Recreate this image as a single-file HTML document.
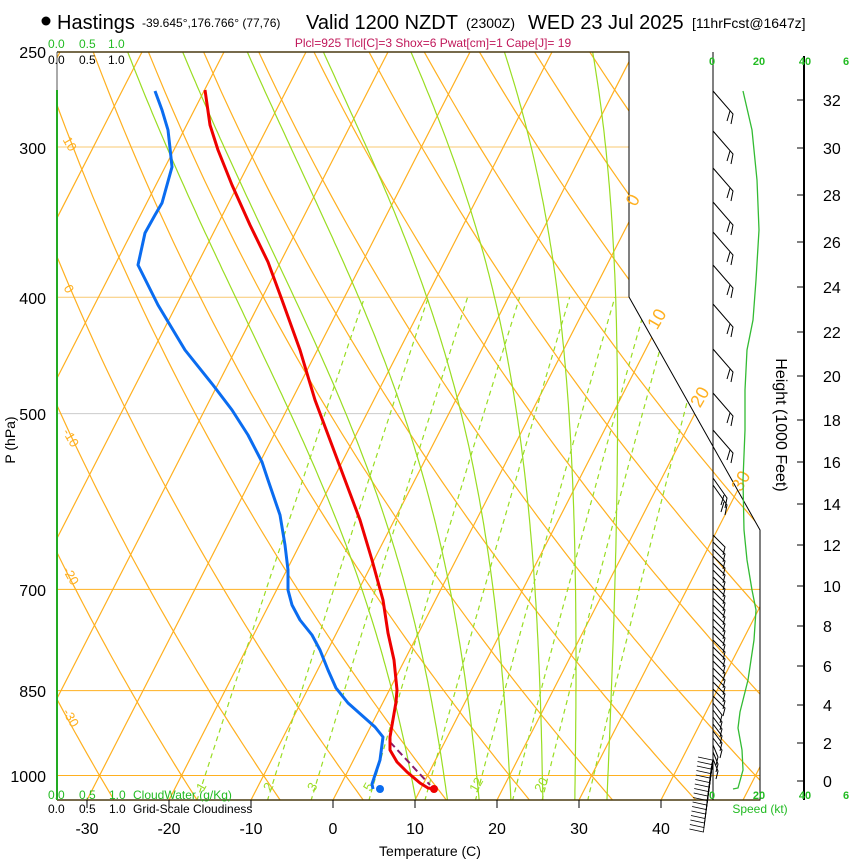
<!DOCTYPE html>
<html><head><meta charset="utf-8"><style>
html,body{margin:0;padding:0;background:#fff;}
body{width:850px;height:860px;overflow:hidden;font-family:"Liberation Sans",sans-serif;}
svg text{font-family:"Liberation Sans",sans-serif;}
</style></head><body>
<svg id="s" width="850" height="860" xmlns="http://www.w3.org/2000/svg">
<defs><clipPath id="cp"><polygon points="57,52 629,52 629,297 760,530 760,800 57,800"/></clipPath></defs>
<g id="grid" clip-path="url(#cp)"></g>
<g id="fr"></g>
<circle cx="46" cy="21" r="4.5" fill="#000"/>
<text x="57" y="29" font-size="20">Hastings</text>
<text x="142" y="27" font-size="12">-39.645°,176.766° (77,76)</text>
<text x="306" y="29" font-size="20">Valid 1200 NZDT</text>
<text x="466" y="28" font-size="14">(2300Z)</text>
<text x="528" y="29" font-size="20">WED 23 Jul 2025</text>
<text x="692" y="28" font-size="14">[11hrFcst@1647z]</text>
<text x="433" y="47" font-size="12" fill="#c0185a" text-anchor="middle">Plcl=925 Tlcl[C]=3 Shox=6 Pwat[cm]=1 Cape[J]= 19</text>
<g font-size="12" fill="#22bb22"><text x="48" y="48">0.0</text><text x="79" y="48">0.5</text><text x="108" y="48">1.0</text></g>
<g font-size="12" fill="#000"><text x="48" y="64">0.0</text><text x="79" y="64">0.5</text><text x="108" y="64">1.0</text></g>
<g font-size="12" fill="#22bb22"><text x="48" y="799">0.0</text><text x="79" y="799">0.5</text><text x="109" y="799">1.0</text><text x="133" y="799">CloudWater (g/Kg)</text></g>
<g font-size="12" fill="#000"><text x="48" y="813">0.0</text><text x="79" y="813">0.5</text><text x="109" y="813">1.0</text><text x="133" y="813">Grid-Scale Cloudiness</text></g>
<g font-size="16" text-anchor="end"><text x="46" y="58">250</text><text x="46" y="154">300</text><text x="46" y="304">400</text><text x="46" y="420">500</text><text x="46" y="596">700</text><text x="46" y="697">850</text><text x="46" y="782">1000</text></g>
<text transform="translate(15,440) rotate(-90)" font-size="14" text-anchor="middle">P (hPa)</text>
<g font-size="16" text-anchor="middle" id="xt"></g>
<text x="430" y="856" font-size="14" text-anchor="middle">Temperature (C)</text>
<text transform="translate(776,425) rotate(90)" font-size="16" text-anchor="middle">Height (1000 Feet)</text>
<g font-size="11" font-weight="bold" fill="#22bb22" text-anchor="middle"><text x="712" y="65">0</text><text x="759" y="65">20</text><text x="805" y="65">40</text><text x="846" y="65">6</text>
<text x="712" y="799">0</text><text x="759" y="799">20</text><text x="805" y="799">40</text><text x="846" y="799">6</text></g>
<text x="760" y="813" font-size="12" fill="#22bb22" text-anchor="middle">Speed (kt)</text>
<g id="hax" font-size="16"></g>
<g id="lab" font-size="12" fill="#ffb020"></g>
<g id="snd"></g>
</svg>
<script>
var NS="http://www.w3.org/2000/svg";
function el(par,tag,at,txt){var e=document.createElementNS(NS,tag);for(var k in at)e.setAttribute(k,at[k]);if(txt!==undefined)e.textContent=txt;document.getElementById(par).appendChild(e);return e;}
function Y(p){return 775.5-522*Math.log(1000/p);}
function X(T,p){var y=Y(p);return 333+8.2*T+0.512*(800-y);}
function pl(par,pts,st){el(par,"polyline",Object.assign({points:pts.map(function(a){return a[0].toFixed(1)+","+a[1].toFixed(1);}).join(" "),fill:"none"},st));}
var OR="#ffb020",GR="#99dd22";
[[300,"#f8c870"],[400,"#f8c870"],[500,"#cccccc"],[700,OR],[850,OR],[1000,OR]].forEach(function(a){var y=Y(a[0]);el("grid","line",{x1:57,x2:760,y1:y,y2:y,stroke:a[1],"stroke-width":1});});
for(var T=-120;T<=50;T+=10){pl("grid",[[X(T,1060),Y(1060)],[X(T,240),Y(240)]],{stroke:OR,"stroke-width":1.2});}
for(var th=-40;th<=200;th+=10){var pts=[];for(var p=1060;p>=240;p-=10){var Tk=(th+273.15)*Math.pow(p/1000,0.286);pts.push([X(Tk-273.15,p),Y(p)]);}pl("grid",pts,{stroke:OR,"stroke-width":1.2});}
function es(Tc){return 6.112*Math.exp(17.67*Tc/(Tc+243.5));}
function dTdlnp(Tk,p){var e=es(Tk-273.15);var rs=0.622*e/(p-e);return (287*Tk+2.5e6*rs)/(1004+2.5e6*2.5e6*rs*0.622/(287*Tk*Tk));}
for(var t0=8;t0<=32;t0+=4){var up=[],Tk=t0+273.15,lp=Math.log(1000),h=-0.01;
 for(var i=0;i<160;i++){var p=Math.exp(lp);up.push([X(Tk-273.15,p),Y(p)]);if(p<245)break;var k1=dTdlnp(Tk,p);var k2=dTdlnp(Tk+k1*h/2,Math.exp(lp+h/2));Tk+=k2*h;lp+=h;}
 Tk=t0+273.15;lp=Math.log(1000);var dn=[];for(var i=0;i<6;i++){lp+=0.01;var p=Math.exp(lp);Tk+=dTdlnp(Tk,p)*0.01;dn.push([X(Tk-273.15,p),Y(p)]);}
 pl("grid",dn.reverse().concat(up),{stroke:GR,"stroke-width":1.2});}
[1,2,3,5,8,12,16,20,28].forEach(function(w){var pts=[];for(var p=1050;p>=400;p-=10){var e=w*p/(622+w);var l=Math.log(e/6.112);var Td=243.5*l/(17.67-l);pts.push([X(Td,p),Y(p)]);}pl("grid",pts,{stroke:GR,"stroke-width":1.2,"stroke-dasharray":"5,4"});});
pl("fr",[[57,52],[629,52],[629,297],[760,530],[760,800],[57,800]],{stroke:"#000","stroke-width":1});
el("fr","line",{x1:57,y1:800,x2:760,y2:800,stroke:"#4a3a10","stroke-width":1.5});
el("fr","line",{x1:57,y1:52,x2:629,y2:52,stroke:"#4a3a10","stroke-width":1.5});
el("fr","line",{x1:57,y1:52,x2:57,y2:90,stroke:"#555","stroke-width":1});
el("fr","line",{x1:57,y1:90,x2:57,y2:800,stroke:"#22aa22","stroke-width":2});
el("fr","line",{x1:713,y1:52,x2:713,y2:800,stroke:"#000","stroke-width":1});
el("fr","line",{x1:804,y1:56,x2:804,y2:800,stroke:"#000","stroke-width":2});
[-30,-20,-10,0,10,20,30,40].forEach(function(t){var x=333+8.2*t;el("fr","line",{x1:x,x2:x,y1:800,y2:808,stroke:"#000"});el("xt","text",{x:x,y:834},String(t));});
var hy={0:781,2:743,4:705,6:666,8:626,10:586,12:545,14:504,16:462,18:420,20:376,22:332,24:287,26:242,28:195,30:148,32:100};
for(var k in hy){el("fr","line",{x1:797,x2:804,y1:hy[k],y2:hy[k],stroke:"#000"});el("hax","text",{x:823,y:hy[k]+6},k);}
function rt(x,y,a,t,fs,col){el("lab","text",{transform:"translate("+x+","+y+") rotate("+a+")","font-size":fs,fill:col,"text-anchor":"middle"},t);}
rt(638,203,-60,"0",18,OR);rt(662,322,-60,"10",18,OR);rt(705,400,-60,"20",18,OR);rt(746,484,-60,"30",18,OR);
rt(66,146,60,"10",13,OR);rt(65,291,60,"0",13,OR);rt(67,440,60,"-10",13,OR);rt(67,578,60,"-20",13,OR);rt(67,720,60,"-30",13,OR);
rt(205,789,-60,"1",13,GR);rt(272,789,-60,"2",13,GR);rt(316,789,-60,"3",13,GR);rt(372,789,-60,"5",13,GR);rt(480,787,-60,"12",13,GR);rt(545,787,-60,"20",13,GR);
var Tp=[[205,90],[210,125],[218,150],[232,185],[250,225],[268,262],[282,300],[300,350],[315,400],[330,440],[345,480],[360,520],[372,560],[383,600],[388,633],[394,660],[396,680],[397,690],[396,702],[390,737],[390,750],[397,762],[407,772],[420,783],[428,788],[434,789]];
var Tdp=[[155,91],[162,110],[168,130],[170,148],[172,167],[162,203],[155,215],[145,233],[138,265],[143,275],[158,305],[185,350],[213,385],[232,410],[248,435],[262,462],[268,480],[280,515],[285,545],[288,570],[288,590],[292,605],[300,620],[312,635],[320,650],[328,670],[336,688],[348,703],[375,727],[383,737],[380,760],[376,772],[372,784],[373,789]];
pl("snd",[[390,742],[430,785]],{stroke:"#8a1a6a","stroke-width":2,"stroke-dasharray":"7,4"});
pl("snd",Tp,{stroke:"#ee0000","stroke-width":3,"stroke-linejoin":"round"});
pl("snd",Tdp,{stroke:"#0a6cf0","stroke-width":3,"stroke-linejoin":"round"});
el("snd","circle",{cx:434,cy:789,r:4,fill:"#ee0000"});
el("snd","circle",{cx:380,cy:789,r:4,fill:"#0a6cf0"});
pl("snd",[[743,91],[752,130],[757,180],[759,230],[756,280],[753,320],[747,350],[745,390],[745,430],[743,480],[744,530],[747,560],[752,590],[756,610],[754,640],[748,680],[740,712],[738,728],[742,750],[743,770],[738,788],[733,789]],{stroke:"#33bb33","stroke-width":1.3});
[91,131,168,202,232,265,304,349,393,430,478,485].forEach(function(y,i){var l=i>=10?14:20,d=i>=10?20:23;
 pl("snd",[[713,y],[713+l,y+d],[731-(i>=10?6:0),y+d+10]],{stroke:"#000","stroke-width":1});
 el("snd","line",{x1:713+l-3,y1:y+d-3,x2:713+l-6,y2:y+d+7,stroke:"#000","stroke-width":1});});
for(var y=535;y<=760;y+=7){var w=y<700?12:(y<745?9:5);pl("snd",[[713,y],[713+w,y+12],[713+w-2,y+20]],{stroke:"#000","stroke-width":1});}
for(var y=760;y<=832;y+=4.5){var xo=712-(y-760)*0.12;pl("snd",[[713,760],[xo,y],[xo-14,y-3]],{stroke:"#000","stroke-width":0.8});}
</script>
</body></html>
